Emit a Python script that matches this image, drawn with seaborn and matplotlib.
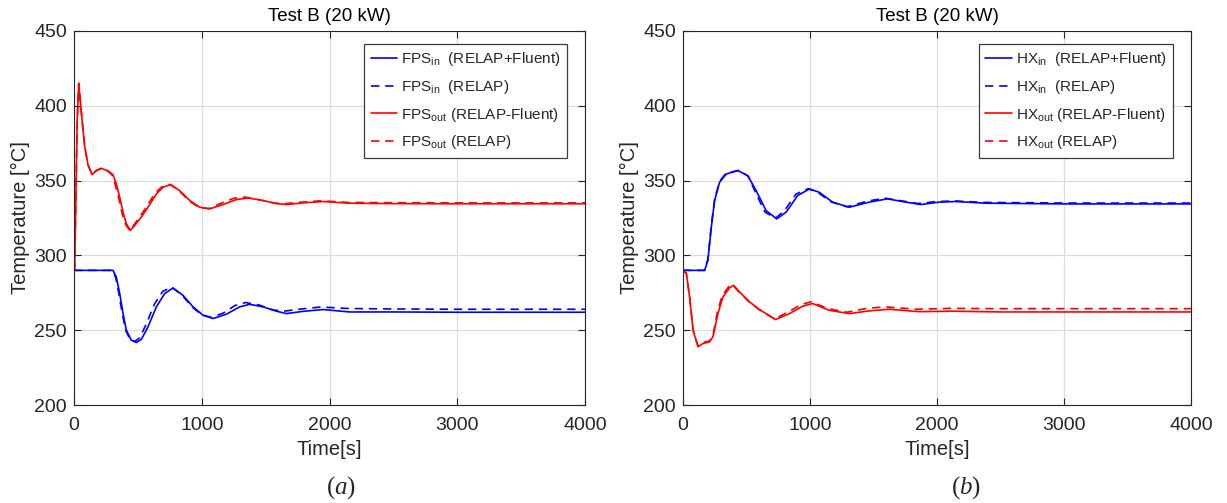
import numpy as np
import pandas as pd
import matplotlib
matplotlib.use("Agg")
import matplotlib.pyplot as plt
import seaborn as sns

# ---------------- data ----------------
# Panel (a): FPS
t_fps_out = [0, 5, 15, 25, 37, 57, 84, 110, 141, 175, 214, 266, 305, 331, 358, 384, 410, 441,
             475, 527, 579, 645, 697, 757, 827, 906, 984, 1062, 1167, 1271, 1362, 1480, 1584,
             1663, 1793, 1950, 2158, 2500, 3000, 3500, 4000]
T_fps_out = [290, 290, 340, 390, 415, 396, 372.5, 360.5, 354, 356.7, 358.2, 356.5, 354, 347.8,
             338.9, 328.9, 321.1, 316.7, 320, 325.6, 332.2, 341.1, 345.6, 347.3, 343.3, 336.7,
             332.2, 331.1, 334.0, 337.3, 338.4, 336.7, 334.6, 334.0, 335.1, 336.0, 334.9, 334.6,
             334.5, 334.5, 334.5]
t_fps_out_r = [0, 5, 15, 25, 37, 57, 84, 110, 141, 175, 214, 266, 300, 325, 352, 378, 405, 438,
               470, 520, 572, 635, 690, 752, 820, 900, 978, 1055, 1150, 1250, 1340, 1460, 1570,
               1650, 1780, 1930, 2150, 2500, 3000, 3500, 4000]
T_fps_out_r = [290, 290, 340, 390, 415, 396, 372.5, 360.5, 354, 356.7, 358.2, 356.3, 353.5,
               346.5, 337.5, 327.5, 320.5, 316.5, 320.5, 326.5, 333, 341.8, 346, 347.5, 343.5,
               336.5, 332, 331.3, 334.8, 338.2, 339, 337, 335, 334.6, 335.6, 336.5, 335.4, 335.2,
               335.1, 335.1, 335.1]

t_fps_in = [0, 305, 331, 358, 384, 410, 449, 488, 527, 579, 645, 710, 775, 853, 932, 1010, 1088,
            1193, 1297, 1375, 1480, 1584, 1663, 1793, 1950, 2158, 2500, 3000, 3500, 4000]
T_fps_in = [290, 290, 285.6, 274.5, 261.1, 250, 243.3, 241.8, 243.8, 252.2, 265.6, 274.5, 278.2,
            273.3, 265.6, 260, 257.8, 260.7, 265.6, 267.3, 265.6, 262.7, 261.1, 262.6, 263.8,
            262.2, 262.2, 262.0, 262.0, 262.0]
t_fps_in_r = [0, 300, 326, 352, 378, 404, 440, 478, 515, 565, 630, 695, 765, 845, 925, 1000, 1075,
              1170, 1260, 1340, 1450, 1560, 1650, 1780, 1930, 2150, 2500, 3000, 3500, 4000]
T_fps_in_r = [290, 290, 285.4, 274, 261, 250, 243.5, 242.6, 245, 254, 267.5, 276, 278.8, 273.5,
              265.5, 260.2, 258.6, 261.5, 266.5, 268.5, 266.8, 263.5, 262.8, 264.2, 265.5,
              264.5, 264.2, 264.0, 264.0, 264.0]

# Panel (b): HX
t_hx_in = [0, 170, 196, 223, 249, 288, 340, 432, 510, 576, 654, 738, 812, 903, 995, 1073, 1178,
           1309, 1466, 1610, 1728, 1872, 2016, 2147, 2382, 3037, 3500, 4000]
T_hx_in = [290, 290, 296.7, 318.9, 336.7, 348.9, 354.4, 356.7, 353.3, 343.3, 330, 324.4, 328.9,
           340, 344.4, 342.2, 335.6, 332.2, 335.6, 337.8, 336, 334, 335.6, 336, 334.9, 334.4,
           334.4, 334.4]
t_hx_in_r = [0, 170, 196, 223, 249, 288, 340, 440, 515, 570, 645, 728, 800, 890, 985, 1060, 1165,
             1290, 1450, 1590, 1710, 1850, 2000, 2140, 2380, 3037, 3500, 4000]
T_hx_in_r = [290, 290, 297.5, 320, 337.5, 349.5, 355, 356.8, 352.8, 342.3, 329, 324.8, 330,
             341, 344.6, 342.2, 335.8, 332.5, 336.2, 338.3, 336.6, 334.7, 336.0, 336.4, 335.4,
             335.0, 335.0, 335.0]

t_hx_out = [0, 26, 52, 79, 118, 157, 209, 236, 275, 314, 367, 398, 445, 524, 602, 728, 838, 942,
            1021, 1152, 1309, 1466, 1623, 1859, 2121, 2513, 3000, 3500, 4000]
T_hx_out = [290, 288, 272.2, 250, 238.9, 241.1, 242.2, 245.6, 261.1, 272.2, 278.4, 280, 275.6,
            268.9, 263.8, 257.1, 261.1, 266, 267.8, 263.3, 261.1, 262.9, 264, 262.4, 262.7,
            262.2, 262.2, 262.2, 262.2]
t_hx_out_r = [0, 26, 52, 79, 118, 157, 209, 236, 270, 308, 360, 392, 440, 520, 600, 720, 825, 930,
              1010, 1140, 1290, 1440, 1590, 1840, 2100, 2500, 3000, 3500, 4000]
T_hx_out_r = [290, 288, 272.5, 250.5, 239.5, 241.8, 242.8, 246.5, 262, 273, 279.2, 280.2, 275.6,
              269, 263.8, 257.6, 262, 267.2, 269, 264.5, 262, 264.5, 265.6, 264, 264.6, 264.4,
              264.4, 264.4, 264.4]

leg_a = [r"FPS$_{\rm in}$  (RELAP+Fluent)", r"FPS$_{\rm in}$  (RELAP)",
         r"FPS$_{\rm out}$ (RELAP-Fluent)", r"FPS$_{\rm out}$ (RELAP)"]
leg_b = [r"HX$_{\rm in}$  (RELAP+Fluent)", r"HX$_{\rm in}$  (RELAP)",
         r"HX$_{\rm out}$ (RELAP-Fluent)", r"HX$_{\rm out}$ (RELAP)"]
xticks = [0, 1000, 2000, 3000, 4000]
yticks = [200, 250, 300, 350, 400, 450]
title = "Test B (20 kW)"
caption_letters = ["a", "b"]

# ---------------- style ----------------
sns.set_style("ticks")
plt.rcParams["font.family"] = ["Liberation Sans", "DejaVu Sans"]
plt.rcParams["mathtext.fontset"] = "custom"
plt.rcParams["mathtext.rm"] = "Liberation Sans"
plt.rcParams["mathtext.it"] = "Liberation Serif:italic"
plt.rcParams["axes.edgecolor"] = "#262626"
plt.rcParams["xtick.color"] = "#262626"
plt.rcParams["ytick.color"] = "#262626"

fig = plt.figure(figsize=(12.27, 5.03), dpi=100)
ax_a = fig.add_axes([74 / 1227, 98 / 503, 511 / 1227, 374 / 503])
ax_b = fig.add_axes([683 / 1227, 98 / 503, 508 / 1227, 374 / 503])

blue = (0, 0, 1)
red = (1, 0, 0)
dash = (5, 3.5)

panels = [
    (ax_a, [(t_fps_in, T_fps_in, blue, "-"), (t_fps_in_r, T_fps_in_r, blue, "--"),
            (t_fps_out, T_fps_out, red, "-"), (t_fps_out_r, T_fps_out_r, red, "--")], leg_a,
     341 / 1227),
    (ax_b, [(t_hx_in, T_hx_in, blue, "-"), (t_hx_in_r, T_hx_in_r, blue, "--"),
            (t_hx_out, T_hx_out, red, "-"), (t_hx_out_r, T_hx_out_r, red, "--")], leg_b,
     966 / 1227),
]

for (ax, series, labels, capx), letter in zip(panels, caption_letters):
    for (t, v, c, ls), lab in zip(series, labels):
        df = pd.DataFrame({"t": t, "T": v})
        sns.lineplot(data=df, x="t", y="T", ax=ax, color=c, linewidth=1.2,
                     label=lab, sort=False, estimator=None)
        ln = ax.get_lines()[-1]
        if ls == "--":
            ln.set_dashes(dash)
    ax.set_xlim(0, 4000)
    ax.set_ylim(200, 450)
    ax.set_xticks(xticks)
    ax.set_yticks(yticks)
    ax.grid(True, color="#dcdcdc", linewidth=0.9)
    ax.set_axisbelow(True)
    ax.tick_params(direction="in", top=True, right=True, labelsize=14, length=5,
                   width=0.8, labelcolor="#262626")
    ax.tick_params(axis="x", pad=9)
    ax.tick_params(axis="y", pad=5)
    for s in ax.spines.values():
        s.set_visible(True)
        s.set_linewidth(0.8)
    ax.set_xlabel("Time[s]", fontsize=14.5, color="#262626", labelpad=4)
    ax.set_ylabel("Temperature [°C]", fontsize=14.5, color="#262626", labelpad=3)
    ax.set_title(title, fontsize=13.5, color="black", pad=7)
    leg = ax.legend(loc="upper right", bbox_to_anchor=(0.9648, 0.9653), fontsize=11,
                    frameon=True, fancybox=False, framealpha=1, edgecolor="#3a3a3a",
                    handlelength=1.75, handletextpad=0.25, borderpad=0.42,
                    labelspacing=0.63, borderaxespad=0.0)
    leg.get_frame().set_linewidth(0.9)
    for h in leg.get_lines():
        h.set_linewidth(1.2)
    leg.get_lines()[1].set_dashes(dash)
    leg.get_lines()[3].set_dashes(dash)
    fig.text(capx, 1 - 488 / 503, "(" + r"$\it{" + letter + "}$" + ")", ha="center",
             va="center", fontsize=18, family="Liberation Serif")

fig.savefig("out.png", dpi=100)
